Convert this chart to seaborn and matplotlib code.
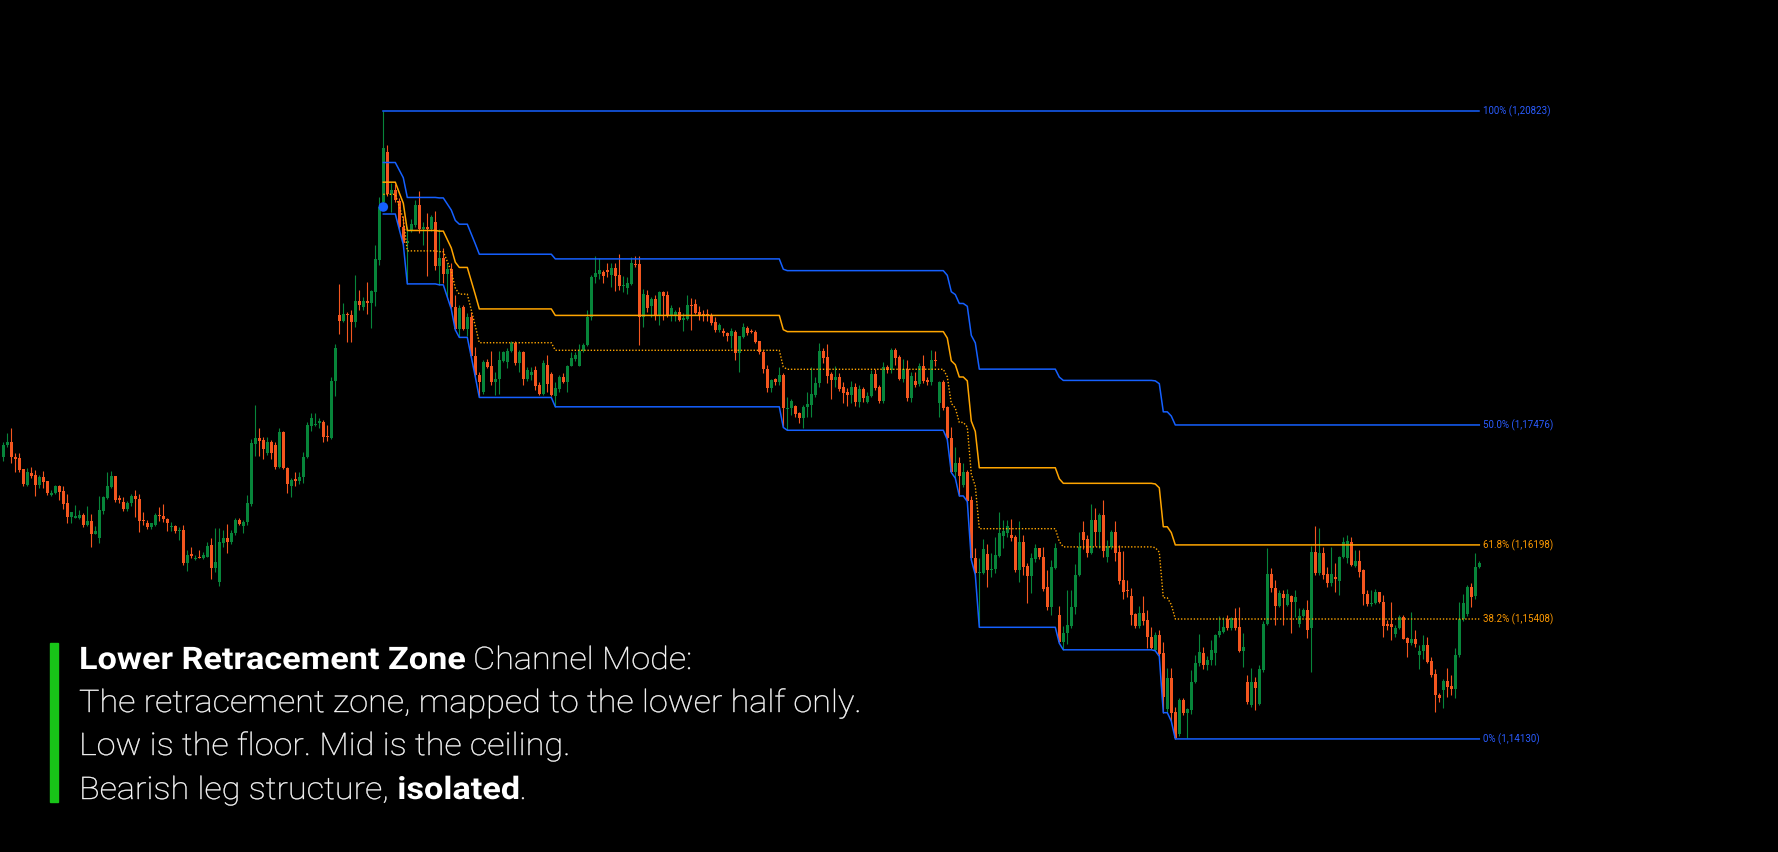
import numpy as np
import pandas as pd
import matplotlib
matplotlib.use("Agg")
import matplotlib.pyplot as plt
from matplotlib.patches import Rectangle
from matplotlib.patheffects import AbstractPathEffect
from matplotlib.transforms import Affine2D
import seaborn as sns

# ---------------- data (EURUSD-like candles) ----------------
OPEN = [
1.1714, 1.1726, 1.1730, 1.1714, 1.1712, 1.1701, 1.1684, 1.1696, 1.1694, 1.1684,
1.1692, 1.1688, 1.1673, 1.1675, 1.1683, 1.1677, 1.1664, 1.1650, 1.1649, 1.1649,
1.1652, 1.1641, 1.1645, 1.1631, 1.1627, 1.1656, 1.1670, 1.1682, 1.1693, 1.1670,
1.1666, 1.1658, 1.1664, 1.1672, 1.1669, 1.1646, 1.1643, 1.1639, 1.1641, 1.1652,
1.1651, 1.1647, 1.1639, 1.1640, 1.1635, 1.1636, 1.1601, 1.1610, 1.1605, 1.1607,
1.1606, 1.1607, 1.1620, 1.1595, 1.1580, 1.1622, 1.1627, 1.1623, 1.1632, 1.1646,
1.1640, 1.1644, 1.1663, 1.1727, 1.1734, 1.1732, 1.1718, 1.1730, 1.1726, 1.1703,
1.1740, 1.1702, 1.1683, 1.1690, 1.1688, 1.1692, 1.1714, 1.1747, 1.1748, 1.1750,
1.1751, 1.1736, 1.1734, 1.1794, 1.1865, 1.1858, 1.1866, 1.1865, 1.1857, 1.1880,
1.1873, 1.1880, 1.1878, 1.1889, 1.1924, 1.1985, 1.2039, 1.1994, 1.1998, 1.1986,
1.1959, 1.1942, 1.1955, 1.1961, 1.1982, 1.1957, 1.1958, 1.1956, 1.1964, 1.1917,
1.1926, 1.1909, 1.1914, 1.1873, 1.1850, 1.1873, 1.1850, 1.1863, 1.1821, 1.1801,
1.1783, 1.1815, 1.1810, 1.1793, 1.1797, 1.1816, 1.1815, 1.1826, 1.1835, 1.1814,
1.1825, 1.1797, 1.1801, 1.1806, 1.1790, 1.1781, 1.1812, 1.1802, 1.1778, 1.1786,
1.1799, 1.1793, 1.1810, 1.1818, 1.1811, 1.1826, 1.1833, 1.1863, 1.1905, 1.1909,
1.1911, 1.1913, 1.1907, 1.1915, 1.1907, 1.1896, 1.1894, 1.1898, 1.1919, 1.1919,
1.1863, 1.1886, 1.1874, 1.1882, 1.1865, 1.1889, 1.1886, 1.1865, 1.1865, 1.1868,
1.1860, 1.1861, 1.1875, 1.1877, 1.1868, 1.1866, 1.1866, 1.1865, 1.1857, 1.1849,
1.1848, 1.1846, 1.1842, 1.1847, 1.1824, 1.1841, 1.1851, 1.1848, 1.1847, 1.1837,
1.1825, 1.1807, 1.1787, 1.1797, 1.1793, 1.1801, 1.1765, 1.1766, 1.1768, 1.1760,
1.1755, 1.1767, 1.1769, 1.1780, 1.1792, 1.1827, 1.1820, 1.1802, 1.1796, 1.1799,
1.1788, 1.1783, 1.1780, 1.1788, 1.1772, 1.1786, 1.1772, 1.1778, 1.1802, 1.1788,
1.1773, 1.1809, 1.1806, 1.1828, 1.1820, 1.1797, 1.1807, 1.1776, 1.1794, 1.1791,
1.1810, 1.1796, 1.1793, 1.1817, 1.1771, 1.1793, 1.1767, 1.1734, 1.1698, 1.1707,
1.1684, 1.1698, 1.1668, 1.1606, 1.1590, 1.1590, 1.1610, 1.1593, 1.1594, 1.1608,
1.1629, 1.1633, 1.1630, 1.1628, 1.1593, 1.1623, 1.1597, 1.1587, 1.1605, 1.1616,
1.1607, 1.1575, 1.1554, 1.1595, 1.1545, 1.1516, 1.1526, 1.1533, 1.1554, 1.1588,
1.1634, 1.1626, 1.1611, 1.1646, 1.1634, 1.1652, 1.1607, 1.1618, 1.1634, 1.1612,
1.1582, 1.1572, 1.1565, 1.1546, 1.1533, 1.1547, 1.1540, 1.1522, 1.1508, 1.1524,
1.1505, 1.1445, 1.1478, 1.1442, 1.1418, 1.1455, 1.1441, 1.1444, 1.1474, 1.1494,
1.1505, 1.1492, 1.1497, 1.1505, 1.1524, 1.1527, 1.1541, 1.1531, 1.1542, 1.1532,
1.1507, 1.1474, 1.1449, 1.1474, 1.1450, 1.1486, 1.1535, 1.1589, 1.1574, 1.1555,
1.1568, 1.1556, 1.1565, 1.1559, 1.1535, 1.1544, 1.1550, 1.1531, 1.1612, 1.1590,
1.1611, 1.1589, 1.1579, 1.1586, 1.1581, 1.1607, 1.1606, 1.1623, 1.1597, 1.1603,
1.1593, 1.1568, 1.1557, 1.1558, 1.1570, 1.1559, 1.1535, 1.1535, 1.1525, 1.1531,
1.1543, 1.1521, 1.1515, 1.1520, 1.1502, 1.1507, 1.1513, 1.1496, 1.1482, 1.1460,
1.1465, 1.1475, 1.1469, 1.1466, 1.1502, 1.1541, 1.1546, 1.1575, 1.1565, 1.1596,
]

HIGH = [
1.1729, 1.1739, 1.1744, 1.1718, 1.1718, 1.1701, 1.1702, 1.1703, 1.1700, 1.1694,
1.1699, 1.1688, 1.1678, 1.1684, 1.1684, 1.1683, 1.1674, 1.1655, 1.1662, 1.1657,
1.1654, 1.1661, 1.1653, 1.1640, 1.1672, 1.1672, 1.1697, 1.1699, 1.1693, 1.1673,
1.1671, 1.1667, 1.1674, 1.1678, 1.1674, 1.1655, 1.1646, 1.1643, 1.1654, 1.1660,
1.1663, 1.1649, 1.1644, 1.1641, 1.1639, 1.1641, 1.1614, 1.1618, 1.1609, 1.1614,
1.1612, 1.1623, 1.1627, 1.1638, 1.1638, 1.1636, 1.1642, 1.1636, 1.1649, 1.1649,
1.1646, 1.1673, 1.1733, 1.1769, 1.1744, 1.1735, 1.1735, 1.1732, 1.1729, 1.1744,
1.1741, 1.1703, 1.1691, 1.1697, 1.1697, 1.1719, 1.1751, 1.1760, 1.1760, 1.1755,
1.1753, 1.1748, 1.1799, 1.1834, 1.1898, 1.1878, 1.1868, 1.1870, 1.1908, 1.1892,
1.1884, 1.1900, 1.1891, 1.1940, 1.1991, 1.20823, 1.2046, 1.2006, 1.2004, 1.1990,
1.1970, 1.1959, 1.1967, 1.1987, 1.1997, 1.1964, 1.1974, 1.1971, 1.1976, 1.1956,
1.1936, 1.1920, 1.1920, 1.1886, 1.1876, 1.1876, 1.1867, 1.1868, 1.1831, 1.1804,
1.1817, 1.1818, 1.1826, 1.1804, 1.1827, 1.1827, 1.1830, 1.1837, 1.1837, 1.1828,
1.1826, 1.1809, 1.1809, 1.1810, 1.1793, 1.1817, 1.1822, 1.1804, 1.1793, 1.1801,
1.1803, 1.1812, 1.1825, 1.1825, 1.1834, 1.1835, 1.1870, 1.1908, 1.1928, 1.1926,
1.1913, 1.1920, 1.1920, 1.1920, 1.1930, 1.1906, 1.1905, 1.1927, 1.1928, 1.1928,
1.1893, 1.1892, 1.1884, 1.1886, 1.1890, 1.1890, 1.1890, 1.1876, 1.1870, 1.1873,
1.1867, 1.1886, 1.1883, 1.1882, 1.1874, 1.1870, 1.1871, 1.1867, 1.1863, 1.1856,
1.1851, 1.1847, 1.1851, 1.1849, 1.1842, 1.1856, 1.1853, 1.1850, 1.1849, 1.1837,
1.1828, 1.1812, 1.1797, 1.1798, 1.1809, 1.1803, 1.1777, 1.1775, 1.1769, 1.1761,
1.1769, 1.1783, 1.1809, 1.1799, 1.1835, 1.1830, 1.1834, 1.1804, 1.1811, 1.1803,
1.1793, 1.1787, 1.1794, 1.1792, 1.1790, 1.1788, 1.1783, 1.1806, 1.1807, 1.1790,
1.1815, 1.1812, 1.1830, 1.1830, 1.1822, 1.1818, 1.1817, 1.1804, 1.1804, 1.1814,
1.1822, 1.1799, 1.1828, 1.1826, 1.1794, 1.1796, 1.1768, 1.1746, 1.1724, 1.1714,
1.1707, 1.1700, 1.1672, 1.1616, 1.1606, 1.1626, 1.1621, 1.1611, 1.1628, 1.1655,
1.1646, 1.1646, 1.1647, 1.1630, 1.1645, 1.1630, 1.1601, 1.1611, 1.1621, 1.1617,
1.1618, 1.1593, 1.1604, 1.1622, 1.1555, 1.1533, 1.1572, 1.1572, 1.1599, 1.1634,
1.1645, 1.1630, 1.1663, 1.1659, 1.1654, 1.1668, 1.1625, 1.1636, 1.1645, 1.1620,
1.1613, 1.1582, 1.1574, 1.1547, 1.1555, 1.1565, 1.1550, 1.1532, 1.1527, 1.1529,
1.1516, 1.1489, 1.1489, 1.1447, 1.1457, 1.1457, 1.1446, 1.1487, 1.1502, 1.1525,
1.1511, 1.1501, 1.1518, 1.1525, 1.1544, 1.1543, 1.1545, 1.1543, 1.1553, 1.1554,
1.1526, 1.1481, 1.1489, 1.1479, 1.1492, 1.1539, 1.1617, 1.1595, 1.1582, 1.1572,
1.1572, 1.1573, 1.1566, 1.1572, 1.1553, 1.1553, 1.1561, 1.1619, 1.1640, 1.1638,
1.1618, 1.1596, 1.1618, 1.1601, 1.1608, 1.1628, 1.1630, 1.1628, 1.1614, 1.1614,
1.1594, 1.1572, 1.1572, 1.1573, 1.1570, 1.1566, 1.1540, 1.1559, 1.1534, 1.1545,
1.1545, 1.1522, 1.1548, 1.1529, 1.1513, 1.1524, 1.1522, 1.1500, 1.1488, 1.1462,
1.1477, 1.1489, 1.1481, 1.1510, 1.1559, 1.1568, 1.1577, 1.1579, 1.1611, 1.1603,
]

LOW = [
1.1709, 1.1724, 1.1707, 1.1697, 1.1697, 1.1683, 1.1683, 1.1691, 1.1672, 1.1681,
1.1680, 1.1673, 1.1672, 1.1674, 1.1668, 1.1658, 1.1643, 1.1643, 1.1648, 1.1647,
1.1639, 1.1640, 1.1618, 1.1631, 1.1622, 1.1653, 1.1669, 1.1681, 1.1666, 1.1664,
1.1656, 1.1656, 1.1661, 1.1650, 1.1634, 1.1641, 1.1637, 1.1637, 1.1640, 1.1645,
1.1644, 1.1635, 1.1635, 1.1633, 1.1625, 1.1598, 1.1592, 1.1606, 1.1604, 1.1606,
1.1605, 1.1607, 1.1584, 1.1591, 1.1576, 1.1618, 1.1611, 1.1621, 1.1630, 1.1641,
1.1632, 1.1641, 1.1661, 1.1715, 1.1715, 1.1711, 1.1716, 1.1711, 1.1701, 1.1702,
1.1701, 1.1675, 1.1671, 1.1683, 1.1685, 1.1686, 1.1712, 1.1741, 1.1747, 1.1744,
1.1729, 1.1731, 1.1733, 1.1778, 1.1845, 1.1857, 1.1836, 1.1836, 1.1852, 1.1870,
1.1870, 1.1866, 1.1851, 1.1874, 1.1918, 1.1983, 1.1992, 1.1975, 1.1985, 1.1956,
1.1940, 1.1898, 1.1953, 1.1959, 1.1952, 1.1939, 1.1906, 1.1954, 1.1913, 1.1897,
1.1899, 1.1884, 1.1871, 1.1849, 1.1841, 1.1849, 1.1842, 1.1820, 1.1799, 1.1777,
1.1781, 1.1808, 1.1790, 1.1780, 1.1781, 1.1815, 1.1808, 1.1825, 1.1812, 1.1804,
1.1790, 1.1794, 1.1796, 1.1785, 1.1780, 1.1780, 1.1783, 1.1778, 1.1767, 1.1783,
1.1792, 1.1783, 1.1810, 1.1816, 1.1810, 1.1825, 1.1832, 1.1860, 1.1899, 1.1903,
1.1899, 1.1905, 1.1895, 1.1890, 1.1892, 1.1889, 1.1887, 1.1897, 1.1916, 1.1833,
1.1852, 1.1868, 1.1863, 1.1860, 1.1854, 1.1860, 1.1863, 1.1858, 1.1858, 1.1858,
1.1848, 1.1860, 1.1849, 1.1866, 1.1860, 1.1858, 1.1858, 1.1854, 1.1847, 1.1847,
1.1842, 1.1837, 1.1830, 1.1817, 1.1804, 1.1840, 1.1844, 1.1846, 1.1835, 1.1823,
1.1803, 1.1783, 1.1783, 1.1790, 1.1790, 1.1745, 1.1742, 1.1758, 1.1756, 1.1750,
1.1744, 1.1756, 1.1756, 1.1777, 1.1788, 1.1814, 1.1792, 1.1775, 1.1788, 1.1784,
1.1771, 1.1768, 1.1771, 1.1768, 1.1767, 1.1772, 1.1771, 1.1777, 1.1785, 1.1771,
1.1771, 1.1803, 1.1803, 1.1812, 1.1796, 1.1793, 1.1773, 1.1772, 1.1788, 1.1789,
1.1792, 1.1790, 1.1790, 1.1811, 1.1756, 1.1764, 1.1732, 1.1697, 1.1691, 1.1672,
1.1682, 1.1666, 1.1604, 1.1588, 1.1532, 1.1589, 1.1575, 1.1586, 1.1590, 1.1607,
1.1616, 1.1628, 1.1624, 1.1591, 1.1580, 1.1588, 1.1558, 1.1569, 1.1602, 1.1605,
1.1571, 1.1550, 1.1545, 1.1594, 1.1515, 1.1508, 1.1514, 1.1531, 1.1546, 1.1587,
1.1615, 1.1607, 1.1610, 1.1619, 1.1617, 1.1607, 1.1602, 1.1615, 1.1603, 1.1578,
1.1562, 1.1564, 1.1534, 1.1531, 1.1531, 1.1534, 1.1510, 1.1509, 1.1507, 1.1501,
1.1441, 1.1442, 1.1432, 1.14130, 1.1416, 1.1438, 1.1414, 1.1440, 1.1473, 1.1491,
1.1488, 1.1486, 1.1492, 1.1492, 1.1522, 1.1526, 1.1529, 1.1529, 1.1529, 1.1506,
1.1490, 1.1450, 1.1447, 1.1444, 1.1449, 1.1484, 1.1534, 1.1570, 1.1534, 1.1554,
1.1534, 1.1555, 1.1526, 1.1543, 1.1532, 1.1543, 1.1521, 1.1484, 1.1588, 1.1588,
1.1583, 1.1575, 1.1576, 1.1570, 1.1566, 1.1606, 1.1601, 1.1597, 1.1596, 1.1586,
1.1556, 1.1555, 1.1555, 1.1557, 1.1558, 1.1522, 1.1529, 1.1518, 1.1522, 1.1530,
1.1519, 1.1500, 1.1513, 1.1511, 1.1488, 1.1498, 1.1494, 1.1479, 1.1442, 1.1452,
1.1446, 1.1458, 1.1460, 1.1457, 1.1500, 1.1539, 1.1544, 1.1554, 1.1562, 1.1595,
]

CLOSE = [
1.1726, 1.1730, 1.1713, 1.1711, 1.1700, 1.1685, 1.1697, 1.1693, 1.1684, 1.1692,
1.1687, 1.1675, 1.1675, 1.1683, 1.1676, 1.1663, 1.1650, 1.1655, 1.1650, 1.1652,
1.1641, 1.1645, 1.1631, 1.1635, 1.1657, 1.1671, 1.1683, 1.1693, 1.1668, 1.1668,
1.1658, 1.1664, 1.1672, 1.1669, 1.1645, 1.1645, 1.1639, 1.1643, 1.1652, 1.1651,
1.1647, 1.1643, 1.1640, 1.1635, 1.1636, 1.1601, 1.1609, 1.1608, 1.1606, 1.1606,
1.1609, 1.1619, 1.1595, 1.1602, 1.1623, 1.1627, 1.1623, 1.1633, 1.1646, 1.1642,
1.1644, 1.1664, 1.1728, 1.1734, 1.1731, 1.1722, 1.1730, 1.1718, 1.1703, 1.1740,
1.1702, 1.1685, 1.1689, 1.1688, 1.1692, 1.1714, 1.1748, 1.1755, 1.1749, 1.1752,
1.1735, 1.1735, 1.1795, 1.1830, 1.1858, 1.1866, 1.1865, 1.1857, 1.1880, 1.1876,
1.1880, 1.1878, 1.1890, 1.1925, 1.1980, 1.2043, 1.1994, 1.1998, 1.1987, 1.1959,
1.1942, 1.1944, 1.1962, 1.1982, 1.1956, 1.1958, 1.1957, 1.1969, 1.1917, 1.1926,
1.1909, 1.1914, 1.1873, 1.1850, 1.1872, 1.1850, 1.1863, 1.1821, 1.1801, 1.1793,
1.1815, 1.1809, 1.1793, 1.1797, 1.1817, 1.1825, 1.1826, 1.1835, 1.1814, 1.1825,
1.1797, 1.1806, 1.1804, 1.1789, 1.1781, 1.1814, 1.1791, 1.1780, 1.1787, 1.1799,
1.1793, 1.1811, 1.1819, 1.1822, 1.1827, 1.1833, 1.1863, 1.1905, 1.1910, 1.1913,
1.1906, 1.1911, 1.1915, 1.1906, 1.1896, 1.1897, 1.1899, 1.1920, 1.1918, 1.1863,
1.1887, 1.1872, 1.1882, 1.1864, 1.1889, 1.1885, 1.1865, 1.1872, 1.1868, 1.1860,
1.1861, 1.1876, 1.1874, 1.1867, 1.1865, 1.1865, 1.1864, 1.1856, 1.1849, 1.1854,
1.1846, 1.1842, 1.1848, 1.1824, 1.1842, 1.1852, 1.1846, 1.1847, 1.1836, 1.1825,
1.1807, 1.1787, 1.1796, 1.1793, 1.1801, 1.1766, 1.1766, 1.1773, 1.1759, 1.1755,
1.1767, 1.1770, 1.1781, 1.1792, 1.1827, 1.1819, 1.1800, 1.1796, 1.1799, 1.1786,
1.1782, 1.1780, 1.1788, 1.1772, 1.1786, 1.1776, 1.1779, 1.1802, 1.1787, 1.1773,
1.1809, 1.1806, 1.1828, 1.1819, 1.1797, 1.1807, 1.1776, 1.1800, 1.1790, 1.1810,
1.1794, 1.1793, 1.1817, 1.1816, 1.1793, 1.1766, 1.1734, 1.1698, 1.1707, 1.1693,
1.1698, 1.1667, 1.1606, 1.1590, 1.1591, 1.1615, 1.1593, 1.1594, 1.1609, 1.1632,
1.1635, 1.1640, 1.1627, 1.1593, 1.1623, 1.1596, 1.1587, 1.1606, 1.1616, 1.1607,
1.1573, 1.1554, 1.1596, 1.1617, 1.1516, 1.1526, 1.1534, 1.1554, 1.1588, 1.1618,
1.1625, 1.1611, 1.1646, 1.1634, 1.1652, 1.1613, 1.1619, 1.1634, 1.1611, 1.1581,
1.1570, 1.1571, 1.1545, 1.1533, 1.1547, 1.1539, 1.1522, 1.1510, 1.1524, 1.1504,
1.1458, 1.1478, 1.1441, 1.1414, 1.1455, 1.1441, 1.1445, 1.1474, 1.1494, 1.1506,
1.1492, 1.1497, 1.1508, 1.1524, 1.1528, 1.1532, 1.1531, 1.1542, 1.1531, 1.1507,
1.1511, 1.1452, 1.1474, 1.1467, 1.1488, 1.1535, 1.1589, 1.1574, 1.1555, 1.1569,
1.1563, 1.1567, 1.1559, 1.1564, 1.1544, 1.1550, 1.1529, 1.1612, 1.1590, 1.1611,
1.1588, 1.1579, 1.1589, 1.1584, 1.1607, 1.1623, 1.1624, 1.1598, 1.1603, 1.1591,
1.1567, 1.1557, 1.1558, 1.1570, 1.1559, 1.1533, 1.1533, 1.1532, 1.1531, 1.1543,
1.1520, 1.1515, 1.1520, 1.1514, 1.1507, 1.1513, 1.1495, 1.1481, 1.1460, 1.1457,
1.1475, 1.1468, 1.1466, 1.1502, 1.1541, 1.1558, 1.1575, 1.1564, 1.1596, 1.1601,
]

LEG_START = 95          # bar of the swing high (start of the bearish leg)
SWING_HIGH = 1.20823    # 100 % level
FLOOR_START = 1.19725   # initial floor of the channel at the leg start
PIVOT_MARK = 1.1980     # blue pivot dot on the swing-high bar
LEVEL_LABELS = ["100% (1,20823)", "50.0% (1,17476)", "61.8% (1,16198)",
                "38.2% (1,15408)", "0% (1,14130)"]
TEXT_LINES = [
    [("Lower Retracement Zone", "bold"), (" Channel Mode:", "light")],
    [("The retracement zone, mapped to the lower half only.", "light")],
    [("Low is the floor. Mid is the ceiling.", "light")],
    [("Bearish leg structure, ", "light"), ("isolated", "bold"), (".", "light")],
]

# ---------------- styling ----------------
W, H = 1778, 852
BG = "#000000"
UP = "#07853a"
DOWN = "#f4561f"
BLUE = "#1560ff"
ORANGE = "#ffa500"
BLUE_TXT = "#2a5cff"
ORANGE_TXT = "#ff9a00"
ACCENT = "#18c418"


class HStretch(AbstractPathEffect):
    """Widen glyphs horizontally about a fixed display x position
    (optionally adding a hairline outline to firm up thin strokes)."""

    def __init__(self, sx, x0, stroke=0.0):
        super().__init__()
        self.sx = sx
        self.x0 = x0
        self.stroke = stroke

    def draw_path(self, renderer, gc, tpath, affine, rgbFace=None):
        t = affine + Affine2D().translate(-self.x0, 0).scale(self.sx, 1.0).translate(self.x0, 0)
        gc0 = renderer.new_gc()
        gc0.copy_properties(gc)
        if self.stroke > 0 and rgbFace is not None:
            gc0.set_linewidth(self.stroke)
            gc0.set_foreground(rgbFace)
        renderer.draw_path(gc0, tpath, t, rgbFace)
        gc0.restore()


o = np.array(OPEN)
c = np.array(CLOSE)
h = np.maximum(np.array(HIGH), np.maximum(o, c))
l = np.minimum(np.array(LOW), np.minimum(o, c))
idx = np.arange(len(o))

# channel levels: floor = lowest low of the leg, mid = half way to the swing high
seg = idx[LEG_START:]
floor = np.minimum.accumulate(np.concatenate([[FLOOR_START], l[LEG_START:]]))[1:]
mid = (SWING_HIGH + floor) / 2.0
f618 = floor + 0.618 * (mid - floor)
f382 = floor + 0.382 * (mid - floor)
levels = pd.DataFrame({"bar": seg, "top": SWING_HIGH, "mid": mid,
                       "f618": f618, "f382": f382, "floor": floor})

fig = plt.figure(figsize=(W / 100, H / 100), dpi=100, facecolor=BG)
ax = fig.add_axes([0, 0, 1, 1])
ax.set_facecolor(BG)

cols = np.where(c >= o, UP, DOWN)
ax.vlines(idx, l, h, colors=cols, linewidth=0.8, zorder=2)
ax.bar(idx, np.maximum(np.abs(c - o), 0.00012), bottom=np.minimum(o, c),
       width=0.72, color=cols, linewidth=0, zorder=3)

sns.lineplot(data=levels, x="bar", y="top", ax=ax, color=BLUE, lw=1.1, zorder=4)
sns.lineplot(data=levels, x="bar", y="mid", ax=ax, color=BLUE, lw=1.1, zorder=4)
sns.lineplot(data=levels, x="bar", y="f618", ax=ax, color=ORANGE, lw=1.1, zorder=4)
sns.lineplot(data=levels, x="bar", y="f382", ax=ax, color=ORANGE, lw=1.0,
             linestyle=(0, (1, 1.3)), zorder=4)
sns.lineplot(data=levels, x="bar", y="floor", ax=ax, color=BLUE, lw=1.1, zorder=4)
sns.scatterplot(x=[LEG_START], y=[PIVOT_MARK], ax=ax, s=48, color=BLUE,
                edgecolor="none", zorder=6)

label_vals = [SWING_HIGH, mid[-1], f618[-1], f382[-1], floor[-1]]
label_cols = [BLUE_TXT, BLUE_TXT, ORANGE_TXT, ORANGE_TXT, BLUE_TXT]
for txt, v, col in zip(LEVEL_LABELS, label_vals, label_cols):
    ax.text(idx[-1] + 0.9, v, txt, color=col, fontsize=7, family="Roboto",
            va="center", ha="left")

ax.set_xlim(-0.825, 443.675)
ax.set_ylim(1.12925, 1.22006)
ax.set_axis_off()

# ---------------- annotation block ----------------
fig.patches.append(Rectangle((50 / W, 1 - 802 / H), 8 / W, (802 - 643) / H,
                             transform=fig.transFigure, color=ACCENT, zorder=1))
renderer = fig.canvas.get_renderer()
FS = 22.4
SX = 1.10
baselines = [669, 712, 755, 799]
for runs, base in zip(TEXT_LINES, baselines):
    xpx = 79.0
    for s, wgt in runs:
        t = fig.text(xpx / W, 1 - base / H, s, color="white", fontsize=FS,
                     fontweight=wgt, family="Roboto", va="baseline", ha="left")
        t.set_path_effects([HStretch(SX, xpx, 0.3 if wgt == "light" else 0.0)])
        xpx += t.get_window_extent(renderer=renderer).width * SX

fig.savefig("out.png", dpi=100, facecolor=BG)
